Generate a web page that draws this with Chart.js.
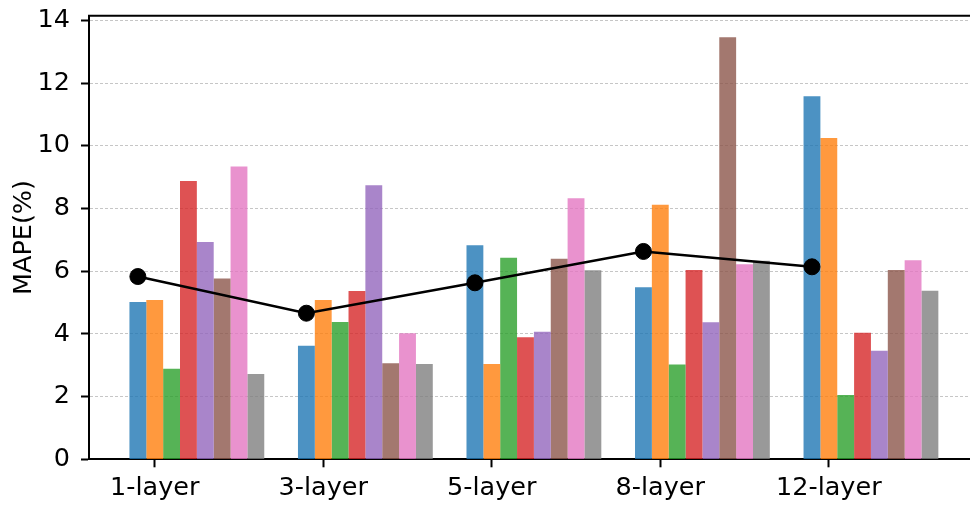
<!DOCTYPE html>
<html>
<head>
<meta charset="utf-8">
<script src="https://cdn.jsdelivr.net/npm/chart.js@4/dist/chart.umd.min.js"></script>
<style>
  html, body { margin: 0; padding: 0; overflow: hidden; background: #ffffff; }
  #wrap { width: 990px; height: 505px; }
</style>
</head>
<body>
<div id="wrap"><canvas id="chart" width="990" height="505"></canvas></div>
<script>
// Model depth groups along the x axis
const categories = ['1-layer', '3-layer', '5-layer', '8-layer', '12-layer'];

// MAPE (%) of the eight runs for each depth
const run1 = [5.02, 3.62, 6.83, 5.49, 11.58];
const run2 = [5.08, 5.08, 3.04, 8.12, 10.25];
const run3 = [2.89, 4.38, 6.43, 3.02, 2.05];
const run4 = [8.88, 5.37, 3.89, 6.04, 4.04];
const run5 = [6.93, 8.74, 4.07, 4.37, 3.46];
const run6 = [5.77, 3.06, 6.40, 13.46, 6.04];
const run7 = [9.34, 4.02, 8.33, 6.22, 6.35];
const run8 = [2.72, 3.04, 6.03, 6.33, 5.38];

// Average MAPE (%) per depth
const averageMAPE = [5.83, 4.66, 5.63, 6.63, 6.14];

// Y axis tick values
const yTicks = [0, 2, 4, 6, 8, 10, 12, 14];

const runs = [run1, run2, run3, run4, run5, run6, run7, run8];
const runColors = [
  'rgba(31,119,180,0.8)', 'rgba(255,127,14,0.8)', 'rgba(44,160,44,0.8)',
  'rgba(214,39,40,0.8)', 'rgba(148,103,189,0.8)', 'rgba(140,86,75,0.8)',
  'rgba(227,119,194,0.8)', 'rgba(127,127,127,0.8)'
];

// bar groups sit to the right of each tick; the average marker sits on the first bar
const GROUP_SHIFT = 0.25;
const MARKER_SHIFT = -0.1;

const FONT = { family: 'DejaVu Sans', size: 25.5 };

const barSets = runs.map((vals, i) => ({
  type: 'bar',
  label: 'run ' + (i + 1),
  data: vals.map((v, k) => ({ x: k + GROUP_SHIFT, y: v })),
  backgroundColor: runColors[i],
  borderWidth: 0,
  categoryPercentage: 0.8,
  barPercentage: 1.0,
  order: 1
}));

const lineSet = {
  type: 'line',
  label: 'average',
  data: averageMAPE.map((v, k) => ({ x: k + MARKER_SHIFT, y: v })),
  borderColor: '#000000',
  backgroundColor: '#000000',
  borderWidth: 2.5,
  pointRadius: 8,
  pointBorderWidth: 1,
  pointBackgroundColor: '#000000',
  pointBorderColor: '#000000',
  tension: 0,
  order: 0
};

// closes the frame on the top and right sides
const frame = {
  id: 'frame',
  afterDatasetsDraw(chart) {
    const { ctx, chartArea: a } = chart;
    ctx.save();
    ctx.strokeStyle = '#000000';
    ctx.lineWidth = 2;
    ctx.beginPath();
    ctx.moveTo(a.left - 1, a.top);
    ctx.lineTo(a.right, a.top);
    ctx.lineTo(a.right, a.bottom);
    ctx.stroke();
    ctx.restore();
  }
};

new Chart(document.getElementById('chart'), {
  data: { datasets: [lineSet, ...barSets] },
  plugins: [frame],
  options: {
    responsive: false,
    animation: false,
    devicePixelRatio: 1,
    layout: { padding: { top: 15.7, right: 11.2, bottom: 0, left: 0 } },
    plugins: { legend: { display: false }, tooltip: { enabled: false } },
    scales: {
      x: {
        type: 'linear',
        offset: false,
        min: -0.39,
        max: 4.89,
        afterBuildTicks(s) { s.ticks = categories.map((_, i) => ({ value: i })); },
        afterFit(s) { s.height = 45.7; s.paddingLeft = 0; s.paddingRight = 0; },
        ticks: {
          callback: (v, i) => categories[i],
          font: FONT,
          color: '#000000',
          padding: 6,
          maxRotation: 0,
          autoSkip: false
        },
        grid: {
          offset: false,
          drawOnChartArea: false,
          drawTicks: true,
          tickLength: 8,
          tickWidth: 2,
          tickColor: '#000000'
        },
        border: { color: '#000000', width: 2 }
      },
      y: {
        type: 'linear',
        min: 0,
        max: 14.15,
        afterBuildTicks(s) { s.ticks = yTicks.map(v => ({ value: v })); },
        afterFit(s) { s.width = 89; s.paddingTop = 0; s.paddingBottom = 0; },
        ticks: { font: FONT, color: '#000000', padding: 11 },
        grid: {
          color: 'rgba(176,176,176,0.9)',
          lineWidth: 0.8,
          drawTicks: true,
          tickLength: 8,
          tickWidth: 2,
          tickColor: '#000000'
        },
        border: { color: '#000000', width: 2, dash: [3, 2] },
        title: {
          display: true,
          text: 'MAPE(%)',
          font: FONT,
          color: '#000000',
          padding: { top: 9, bottom: 0 }
        }
      }
    }
  }
});
</script>
</body>
</html>
